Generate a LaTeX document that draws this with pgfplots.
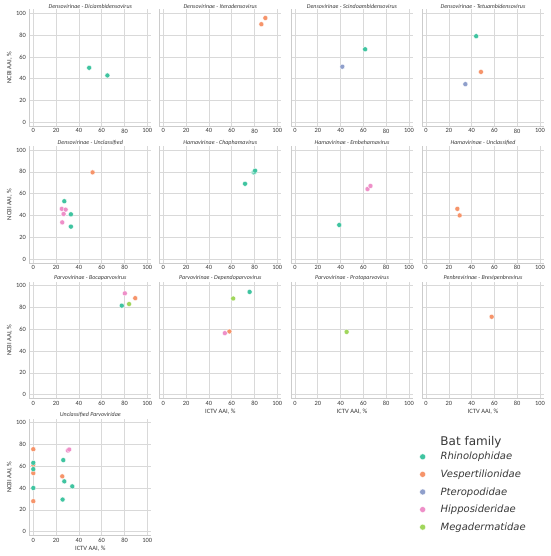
\documentclass[border=0pt]{standalone}
\usepackage{pgfplots}
\pgfplotsset{compat=1.18}
\usepackage{fontspec}
\setmainfont{Carlito}
\newfontfamily\dejavu{DejaVu Sans}
\definecolor{rh}{HTML}{3FC4A0}
\definecolor{ve}{HTML}{F6946A}
\definecolor{pt}{HTML}{8F9FCB}
\definecolor{hi}{HTML}{EE8FC8}
\definecolor{me}{HTML}{A0D65B}
\definecolor{txt}{HTML}{383838}
\pgfplotsset{
  panel/.style={
    scale only axis, width=122pt, height=116.6pt, anchor=north west,
    xmin=-3.5, xmax=103.5, ymin=-3.5, ymax=103.5,
    xtick={0,20,...,100}, ytick={0,20,...,100},
    grid=major, grid style={black!15, line width=0.6pt},
    axis x line*=bottom, axis y line*=left,
    axis line style={black!20, line width=0.6pt, -},
    major tick length=0pt,
    tick label style={font=\fontsize{6.4}{7}\selectfont, text=txt},
    /pgf/number format/assume math mode=true,
    xticklabel style={yshift=1pt},
    every axis title shift=0pt,
    title style={at={(0.5,1)}, anchor=south, inner sep=1pt, font=\itshape\fontsize{6}{7}\selectfont, text=txt},
    label style={font=\fontsize{6.5}{7.5}\selectfont, text=txt},
    xlabel style={yshift=3pt},
    ylabel style={yshift=-3pt},
    clip=false,
  },
  noy/.style={yticklabel=\empty},
  rh/.style={only marks, mark=*, mark size=2.5pt, mark options={fill=rh, draw=white, line width=0.3pt}},
  ve/.style={only marks, mark=*, mark size=2.5pt, mark options={fill=ve, draw=white, line width=0.3pt}},
  pt/.style={only marks, mark=*, mark size=2.5pt, mark options={fill=pt, draw=white, line width=0.3pt}},
  hi/.style={only marks, mark=*, mark size=2.5pt, mark options={fill=hi, draw=white, line width=0.3pt}},
  me/.style={only marks, mark=*, mark size=2.5pt, mark options={fill=me, draw=white, line width=0.3pt}},
}
\begin{document}
\begin{tikzpicture}
\path[use as bounding box] (0,0) rectangle (550pt,-556pt);
% Row 1
\begin{axis}[panel, at={(29.3pt,-9.5pt)}, title={Densovirinae - Diciambidensovirus}, ylabel={NCBI AAI, \%}]
\addplot[rh] coordinates {(49,50) (65,43)};
\end{axis}
\begin{axis}[panel, noy, at={(159.3pt,-9.5pt)}, title={Densovirinae - Iteradensovirus}]
\addplot[ve] coordinates {(86,90) (89.5,95.7)};
\end{axis}
\begin{axis}[panel, noy, at={(291pt,-9.5pt)}, title={Densovirinae - Scindoambidensovirus}]
\addplot[rh] coordinates {(61.5,67)};
\addplot[pt] coordinates {(41.5,51)};
\end{axis}
\begin{axis}[panel, noy, at={(422pt,-9.5pt)}, title={Densovirinae - Tetuambidensovirus}]
\addplot[rh] coordinates {(44,79)};
\addplot[ve] coordinates {(48.2,46.2)};
\addplot[pt] coordinates {(34.5,35)};
\end{axis}
% Row 2
\begin{axis}[panel, at={(29.3pt,-146.2pt)}, title={Densovirinae - Unclassified}, ylabel={NCBI AAI, \%}]
\addplot[ve] coordinates {(52,79.5)};
\addplot[rh] coordinates {(27.2,53) (33,41) (33,29.7)};
\addplot[hi] coordinates {(25,46) (28.4,45.3) (26.6,41.3) (25.4,33.6)};
\end{axis}
\begin{axis}[panel, noy, at={(159.3pt,-146.2pt)}, title={Hamavirinae - Chaphamavirus}]
\addplot[rh] coordinates {(71.7,69) (79.3,79.5) (80,80) (80.5,81)};
\end{axis}
\begin{axis}[panel, noy, at={(291pt,-146.2pt)}, title={Hamavirinae - Embehamavirus}]
\addplot[rh] coordinates {(38.8,31.2)};
\addplot[hi] coordinates {(63.6,64.2) (66.2,67)};
\end{axis}
\begin{axis}[panel, noy, at={(422pt,-146.2pt)}, title={Hamavirinae - Unclassified}]
\addplot[ve] coordinates {(27.5,46) (29.5,40)};
\end{axis}
% Row 3
\begin{axis}[panel, at={(29.3pt,-281.9pt)}, title={Parvovirinae - Bocaparvovirus}, ylabel={NCBI AAI, \%}]
\addplot[rh] coordinates {(77.6,81.7)};
\addplot[ve] coordinates {(89.4,88.6)};
\addplot[hi] coordinates {(80.3,93)};
\addplot[me] coordinates {(84,83.2)};
\end{axis}
\begin{axis}[panel, noy, at={(159.3pt,-281.9pt)}, title={Parvovirinae - Dependoparvovirus}, xlabel={ICTV AAI, \%}]
\addplot[rh] coordinates {(75.7,94.3)};
\addplot[ve] coordinates {(58,58)};
\addplot[hi] coordinates {(54,56.5)};
\addplot[me] coordinates {(61.3,88.3)};
\end{axis}
\begin{axis}[panel, noy, at={(291pt,-281.9pt)}, title={Parvovirinae - Protoparvovirus}, xlabel={ICTV AAI, \%}]
\addplot[me] coordinates {(45.3,57.6)};
\end{axis}
\begin{axis}[panel, noy, at={(422pt,-281.9pt)}, title={Penbrevirinae - Brevipenbrevirus}, xlabel={ICTV AAI, \%}]
\addplot[ve] coordinates {(57.6,71.5)};
\end{axis}
% Row 4
\begin{axis}[panel, at={(29.3pt,-418.9pt)}, title={Unclassified Parvoviridae}, ylabel={NCBI AAI, \%}, xlabel={ICTV AAI, \%},
  legend style={at={(axis description cs:3.198,0.733)}, anchor=north west, draw=none, fill=none, inner sep=0pt,
    font=\dejavu\itshape\fontsize{10}{12}\selectfont, text=txt, row sep=4.5pt,
    /tikz/every odd column/.append style={column sep=13pt}},
  legend cell align=left]
\addplot[ve, forget plot] coordinates {(0,75.7) (0,61.4) (0,53.8) (25.4,50.8) (0,28)};
\addplot[rh, forget plot] coordinates {(0,63.2) (26.3,65.7) (0,57.4) (27.2,46.2) (34.2,41.6) (0,40.1) (25.7,29.5)};
\addplot[hi, forget plot] coordinates {(30.4,74.5) (31.5,75.4)};
\addlegendimage{rh, mark size=3pt}\addlegendentry{Rhinolophidae}
\addlegendimage{ve, mark size=3pt}\addlegendentry{Vespertilionidae}
\addlegendimage{pt, mark size=3pt}\addlegendentry{Pteropodidae}
\addlegendimage{hi, mark size=3pt}\addlegendentry{Hipposideridae}
\addlegendimage{me, mark size=3pt}\addlegendentry{Megadermatidae}
\end{axis}
\node[font=\dejavu\fontsize{12}{14}\selectfont, text=txt] at (471pt,-442pt) {Bat family};
\end{tikzpicture}
\end{document}
